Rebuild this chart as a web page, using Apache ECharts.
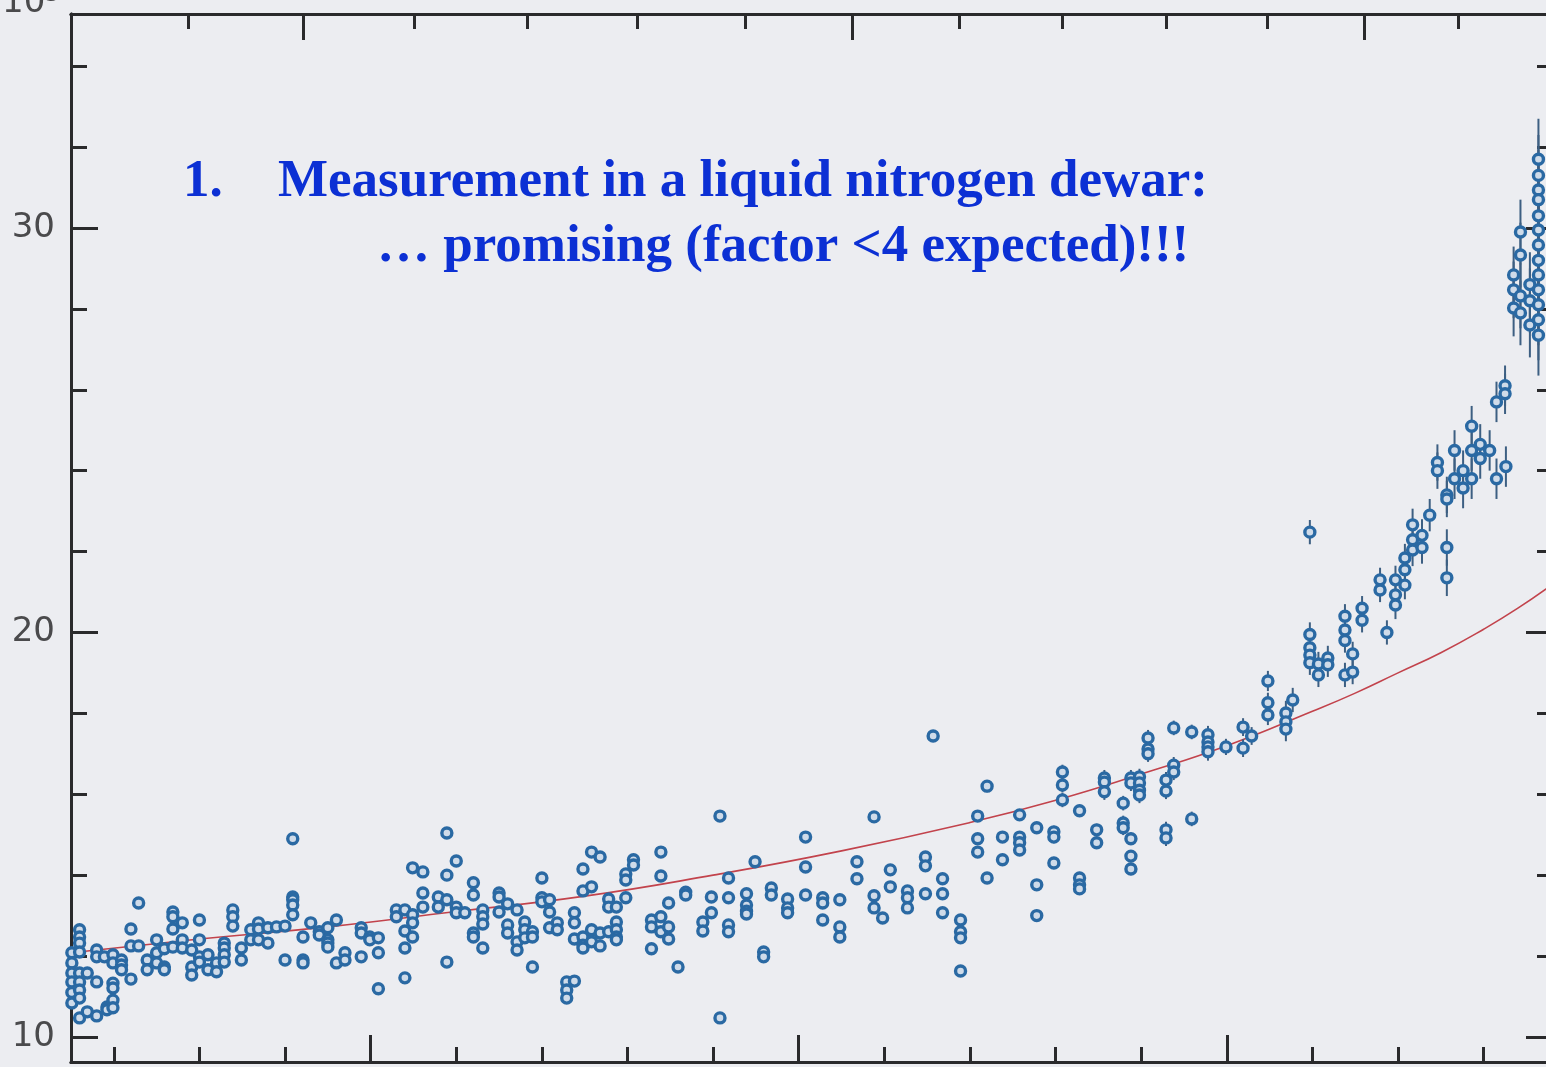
<!DOCTYPE html>
<html>
<head>
<meta charset="utf-8">
<script src="https://cdn.jsdelivr.net/npm/echarts@6/dist/echarts.min.js"></script>
<style>
html, body { margin: 0; padding: 0; background: #ecedf1; }
#chart { width: 1546px; height: 1067px; }
</style>
</head>
<body>
<div id="chart"></div>
<script>
// axis ranges and ticks (bottom ticks: minor every 1, major every 5)
var xRange = [1.5, 18.81];
var yRange = [9.38, 35.29];
var bottomMinorTicks = [2, 3, 4, 6, 7, 8, 9, 11, 12, 13, 14, 16, 17, 18];
var bottomMajorTicks = [5, 10, 15];
var topMinorTicks = [2.87, 5.51, 6.83, 8.11, 9.37, 11.87, 13.08, 14.29, 15.47, 17.70];
var topMajorTicks = [4.21, 10.63, 16.60];
var yMinorTicks = [12, 14, 16, 18, 22, 24, 26, 28, 32, 34];
var yMajorTicks = [10, 20, 30];

// measured points without visible error bars [x, y]
var lowPts = [
    [1.51,12.08],[1.51,11.83],[1.51,11.58],[1.51,11.36],[1.51,11.1],[1.51,10.84],
    [1.6,12.65],[1.6,12.47],[1.6,12.32],[1.6,12.1],[1.6,11.58],[1.6,11.36],[1.6,11.16],[1.6,10.96],[1.6,10.47],
    [1.69,11.58],[1.69,10.62],
    [1.8,12.15],[1.8,11.98],[1.8,11.36],[1.8,10.52],
    [1.89,11.98],[1.92,10.74],[1.92,10.67],
    [1.99,12.03],[1.99,11.83],[1.99,11.33],[1.99,11.21],[1.99,10.91],[1.99,10.72],
    [2.09,11.9],[2.09,11.78],[2.09,11.66],
    [2.2,12.67],[2.2,12.25],[2.2,11.43],
    [2.29,13.31],[2.29,12.25],
    [2.39,11.9],[2.39,11.66],
    [2.5,12.4],[2.5,12.08],[2.5,11.83],
    [2.59,12.18],[2.59,11.73],[2.59,11.66],
    [2.69,13.09],[2.69,12.97],[2.69,12.67],[2.69,12.22],
    [2.8,12.82],[2.8,12.4],[2.8,12.2],
    [2.91,12.15],[2.91,11.73],[2.91,11.53],
    [3.0,12.89],[3.0,12.4],[3.0,11.98],[3.0,11.85],
    [3.1,12.03],[3.1,11.66],
    [3.2,11.83],[3.2,11.61],
    [3.29,12.32],[3.29,12.2],[3.29,12.03],[3.29,11.85],
    [3.39,13.14],[3.39,12.97],[3.39,12.74],
    [3.49,12.2],[3.49,11.9],
    [3.6,12.65],[3.6,12.4],
    [3.69,12.82],[3.69,12.67],[3.69,12.4],
    [3.8,12.7],[3.8,12.32],
    [3.9,12.72],
    [4.0,12.74],[4.0,11.9],
    [4.09,14.9],[4.09,13.46],[4.09,13.39],[4.09,13.26],[4.09,13.02],
    [4.21,12.47],[4.21,11.9],[4.21,11.83],
    [4.3,12.82],
    [4.4,12.6],[4.4,12.52],
    [4.5,12.7],[4.5,12.4],[4.5,12.32],[4.5,12.22],
    [4.6,12.89],[4.6,11.83],
    [4.7,12.08],[4.7,11.9],
    [4.89,12.7],[4.89,12.57],[4.89,11.98],
    [4.99,12.47],[4.99,12.4],
    [5.09,12.45],[5.09,12.08],[5.09,11.19],
    [5.3,13.14],[5.3,12.97],
    [5.4,13.14],[5.4,12.62],[5.4,12.2],[5.4,11.46],
    [5.49,14.18],[5.49,13.02],[5.49,12.82],[5.49,12.47],
    [5.61,14.08],[5.61,13.56],[5.61,13.21],
    [5.79,13.46],[5.79,13.21],
    [5.89,15.04],[5.89,14.0],[5.89,13.39],[5.89,11.85],
    [6.0,14.35],[6.0,13.21],[6.0,13.07],
    [6.1,13.07],
    [6.2,13.81],[6.2,13.51],[6.2,12.57],[6.2,12.47],
    [6.31,13.14],[6.31,12.97],[6.31,12.79],[6.31,12.2],
    [6.5,13.56],[6.5,13.46],[6.5,13.09],
    [6.6,13.29],[6.6,12.77],[6.6,12.57],
    [6.71,13.14],[6.71,12.35],[6.71,12.15],
    [6.8,12.84],[6.8,12.65],[6.8,12.45],
    [6.89,12.6],[6.89,12.47],[6.89,11.73],
    [7.0,13.93],[7.0,13.44],[7.0,13.34],
    [7.09,13.39],[7.09,13.09],[7.09,12.7],
    [7.18,12.82],[7.18,12.65],
    [7.29,11.36],[7.29,11.16],[7.29,10.96],[7.38,11.38],
    [7.38,13.07],[7.38,12.82],[7.38,12.42],
    [7.48,14.15],[7.48,13.61],[7.48,12.47],[7.48,12.27],[7.48,12.2],
    [7.58,14.57],[7.58,13.71],[7.58,12.65],[7.58,12.35],
    [7.68,14.45],[7.68,12.57],[7.68,12.25],
    [7.78,13.41],[7.78,13.21],[7.78,12.6],
    [7.87,13.21],[7.87,12.84],[7.87,12.65],[7.87,12.47],[7.87,12.4],
    [7.98,14.03],[7.98,13.88],[7.98,13.44],
    [8.07,14.38],[8.07,14.25],
    [8.28,12.89],[8.28,12.72],[8.28,12.18],
    [8.39,14.57],[8.39,13.98],[8.39,12.97],[8.39,12.6],
    [8.48,13.31],[8.48,12.72],[8.48,12.42],
    [8.59,11.73],
    [8.68,13.58],[8.68,13.51],
    [8.88,12.84],[8.88,12.62],
    [8.98,13.46],[8.98,13.07],
    [9.08,15.46],[9.08,10.47],
    [9.18,13.93],[9.18,13.44],[9.18,12.77],[9.18,12.6],
    [9.39,13.54],[9.39,13.26],[9.39,13.11],[9.39,13.04],
    [9.49,14.33],
    [9.59,12.1],[9.59,11.98],
    [9.68,13.68],[9.68,13.51],
    [9.87,13.41],[9.87,13.19],[9.87,13.07],
    [10.08,14.94],[10.08,14.2],[10.08,13.51],
    [10.28,13.44],[10.28,13.31],[10.28,12.89],
    [10.48,13.39],[10.48,12.72],[10.48,12.47],
    [10.68,14.33],[10.68,13.91],
    [10.88,15.44],[10.88,13.49],[10.88,13.19],[10.98,12.94],
    [11.07,14.13],[11.07,13.71],
    [11.27,13.61],[11.27,13.44],[11.27,13.19],
    [11.48,14.45],[11.48,14.23],[11.48,13.54],
    [11.68,13.91],[11.68,13.54],[11.68,13.07]
];

// measured points with error bars [x, y, halfError]
var highPts = [
    [11.57,17.44,0.12],
    [11.89,12.89,0.1],[11.89,12.6,0.1],[11.89,12.45,0.1],[11.89,11.63,0.1],
    [12.09,15.46,0.12],[12.09,14.9,0.12],[12.09,14.57,0.12],
    [12.2,16.2,0.15],[12.2,13.93,0.12],
    [12.38,14.94,0.12],[12.38,14.38,0.12],
    [12.58,15.49,0.12],[12.58,14.94,0.12],[12.58,14.8,0.12],[12.58,14.62,0.12],
    [12.78,15.17,0.12],[12.78,13.76,0.12],[12.78,13.0,0.12],
    [12.98,15.07,0.15],[12.98,14.94,0.15],[12.98,14.3,0.15],
    [13.08,16.55,0.18],[13.08,16.23,0.18],[13.08,15.86,0.18],
    [13.28,15.59,0.15],[13.28,13.93,0.15],[13.28,13.76,0.15],[13.28,13.66,0.15],
    [13.48,15.12,0.15],[13.48,14.8,0.15],
    [13.57,16.4,0.2],[13.57,16.3,0.2],[13.57,16.06,0.2],
    [13.79,15.78,0.18],[13.79,15.29,0.18],[13.79,15.17,0.18],
    [13.88,16.4,0.2],[13.88,16.28,0.2],[13.88,14.9,0.15],[13.88,14.47,0.15],[13.88,14.15,0.15],
    [13.98,16.43,0.2],[13.98,16.28,0.2],[13.98,16.1,0.2],[13.98,15.98,0.2],
    [14.08,17.39,0.2],[14.08,17.12,0.2],[14.08,17.0,0.2],
    [14.29,16.35,0.2],[14.29,16.08,0.2],[14.29,15.12,0.2],[14.29,14.92,0.2],
    [14.38,17.64,0.18],[14.38,16.72,0.2],[14.38,16.55,0.2],
    [14.59,17.54,0.18],[14.59,15.39,0.18],
    [14.78,17.47,0.22],[14.78,17.29,0.22],[14.78,17.17,0.22],[14.78,17.05,0.22],
    [14.99,17.17,0.2],
    [15.19,17.66,0.22],[15.19,17.14,0.22],
    [15.29,17.44,0.22],
    [15.48,18.8,0.25],[15.48,18.26,0.25],[15.48,17.96,0.25],
    [15.69,18.01,0.3],[15.69,17.79,0.3],[15.69,17.61,0.3],
    [15.77,18.33,0.3],
    [15.97,22.48,0.3],[15.97,19.95,0.3],[15.97,19.62,0.3],[15.97,19.44,0.3],[15.97,19.25,0.3],
    [16.07,19.22,0.3],[16.07,18.95,0.3],
    [16.18,19.37,0.3],[16.18,19.2,0.3],
    [16.38,20.4,0.3],[16.38,20.06,0.3],[16.38,19.8,0.3],[16.38,18.95,0.3],
    [16.47,19.47,0.3],[16.47,19.02,0.3],
    [16.58,20.6,0.3],[16.58,20.3,0.3],
    [16.79,21.3,0.3],[16.79,21.05,0.3],
    [16.87,20.0,0.3],
    [16.97,21.3,0.35],[16.97,20.93,0.35],[16.97,20.68,0.35],
    [17.08,21.84,0.35],[17.08,21.55,0.35],[17.08,21.17,0.35],
    [17.17,22.66,0.4],[17.17,22.29,0.4],[17.17,22.04,0.4],
    [17.28,22.4,0.4],[17.28,22.1,0.4],
    [17.37,22.9,0.4],
    [17.46,24.2,0.45],[17.46,24.0,0.45],
    [17.57,23.4,0.45],[17.57,23.3,0.45],[17.57,22.1,0.45],[17.57,21.35,0.45],
    [17.66,24.5,0.5],[17.66,23.8,0.5],
    [17.76,24.0,0.5],[17.76,23.57,0.5],
    [17.86,25.1,0.5],[17.86,24.5,0.5],[17.86,23.8,0.5],
    [17.96,24.65,0.5],[17.96,24.3,0.5],
    [18.07,24.5,0.5],
    [18.15,25.7,0.5],[18.15,23.8,0.5],
    [18.25,26.1,0.5],[18.25,25.9,0.5],[18.26,24.1,0.5],
    [18.35,28.84,0.7],[18.35,28.47,0.7],[18.35,28.02,0.7],
    [18.43,29.9,0.8],[18.43,29.33,0.8],[18.43,28.32,0.8],[18.43,27.9,0.8],
    [18.54,28.6,0.8],[18.54,28.2,0.8],[18.54,27.6,0.8],
    [18.64,31.7,1],[18.64,31.3,1],[18.64,30.94,1],[18.64,30.7,1],[18.64,30.3,1],[18.64,29.95,1],
    [18.64,29.58,1],[18.64,29.2,1],[18.64,28.84,1],[18.64,28.47,1],[18.64,28.1,1],[18.64,27.73,1],[18.64,27.35,1]
];

// expected curve
var curveX = [1.5, 3, 4.5, 6, 7.5, 9, 10.5, 12, 13, 14, 15, 16, 16.5, 17, 17.5, 18, 18.4, 18.81];
var curveY = [12.08, 12.42, 12.72, 13.1, 13.48, 14.0, 14.6, 15.3, 15.85, 16.5, 17.2, 18.05, 18.5, 19.0, 19.5, 20.08, 20.6, 21.2];

var axisColor = '#2a2a2c';
var textFont = 'bold 53px "Liberation Serif"';
var textColor = '#0c30d4';
var dotStyle = { color: '#cfdbe9', borderColor: '#2a69a3', borderWidth: 3.4, opacity: 1 };

function tickAxis(pos, ticks, len, isX, labels) {
    var a = {
        type: 'value',
        position: pos,
        min: isX ? xRange[0] : yRange[0],
        max: isX ? xRange[1] : yRange[1],
        axisLine: { show: true, onZero: false, lineStyle: { color: axisColor, width: 3 } },
        axisTick: { show: true, inside: true, length: len, customValues: ticks,
            lineStyle: { color: axisColor, width: 3 } },
        axisLabel: { show: false },
        splitLine: { show: false }
    };
    if (labels) {
        a.axisLabel = { show: true, customValues: ticks, margin: 16,
            fontSize: 34, color: '#4a4a4c', fontFamily: 'DejaVu Sans' };
    }
    return a;
}

var chart = echarts.init(document.getElementById('chart'));
var option = {
    backgroundColor: '#ecedf1',
    animation: false,
    grid: { left: 71, top: 14, width: 1482, height: 1048, outerBoundsMode: 'none' },
    xAxis: [
        tickAxis('bottom', bottomMinorTicks, 15, true),
        tickAxis('bottom', bottomMajorTicks, 27, true),
        tickAxis('top', topMinorTicks, 15, true),
        tickAxis('top', topMajorTicks, 26, true)
    ],
    yAxis: [
        tickAxis('left', yMinorTicks, 16, false),
        tickAxis('left', yMajorTicks, 27, false, true),
        tickAxis('right', yMinorTicks, 16, false),
        tickAxis('right', yMajorTicks, 27, false)
    ],
    graphic: [
        { type: 'text', left: 2, top: -14, style: { text: '10³', font: '34px "DejaVu Sans"', fill: '#4a4a4c' } },
        { type: 'text', x: 183, y: 156, style: { text: '1.', font: textFont, fill: textColor } },
        { type: 'text', x: 278, y: 156, style: { text: 'Measurement in a liquid nitrogen dewar:', font: textFont, fill: textColor } },
        { type: 'text', x: 377, y: 221, style: { text: '\u2026 promising (factor <4 expected)!!!', font: textFont, fill: textColor } }
    ],
    series: [
        {
            type: 'line',
            xAxisIndex: 0, yAxisIndex: 0,
            data: curveX.map(function (x, i) { return [x, curveY[i]]; }),
            smooth: 0.5,
            showSymbol: false,
            lineStyle: { color: '#c2434c', width: 1.6 },
            z: 3
        },
        {
            type: 'custom',
            xAxisIndex: 0, yAxisIndex: 0,
            data: highPts,
            renderItem: function (params, api) {
                var p1 = api.coord([api.value(0), api.value(1) - api.value(2)]);
                var p2 = api.coord([api.value(0), api.value(1) + api.value(2)]);
                return {
                    type: 'line',
                    shape: { x1: p1[0], y1: p1[1], x2: p2[0], y2: p2[1] },
                    style: { stroke: '#3d5f82', lineWidth: 2 }
                };
            },
            z: 4
        },
        {
            type: 'scatter',
            xAxisIndex: 0, yAxisIndex: 0,
            data: lowPts,
            symbolSize: 10,
            itemStyle: dotStyle,
            z: 5
        },
        {
            type: 'scatter',
            xAxisIndex: 0, yAxisIndex: 0,
            data: highPts,
            symbolSize: 10,
            itemStyle: dotStyle,
            z: 5
        }
    ]
};
chart.setOption(option);
</script>
</body>
</html>
